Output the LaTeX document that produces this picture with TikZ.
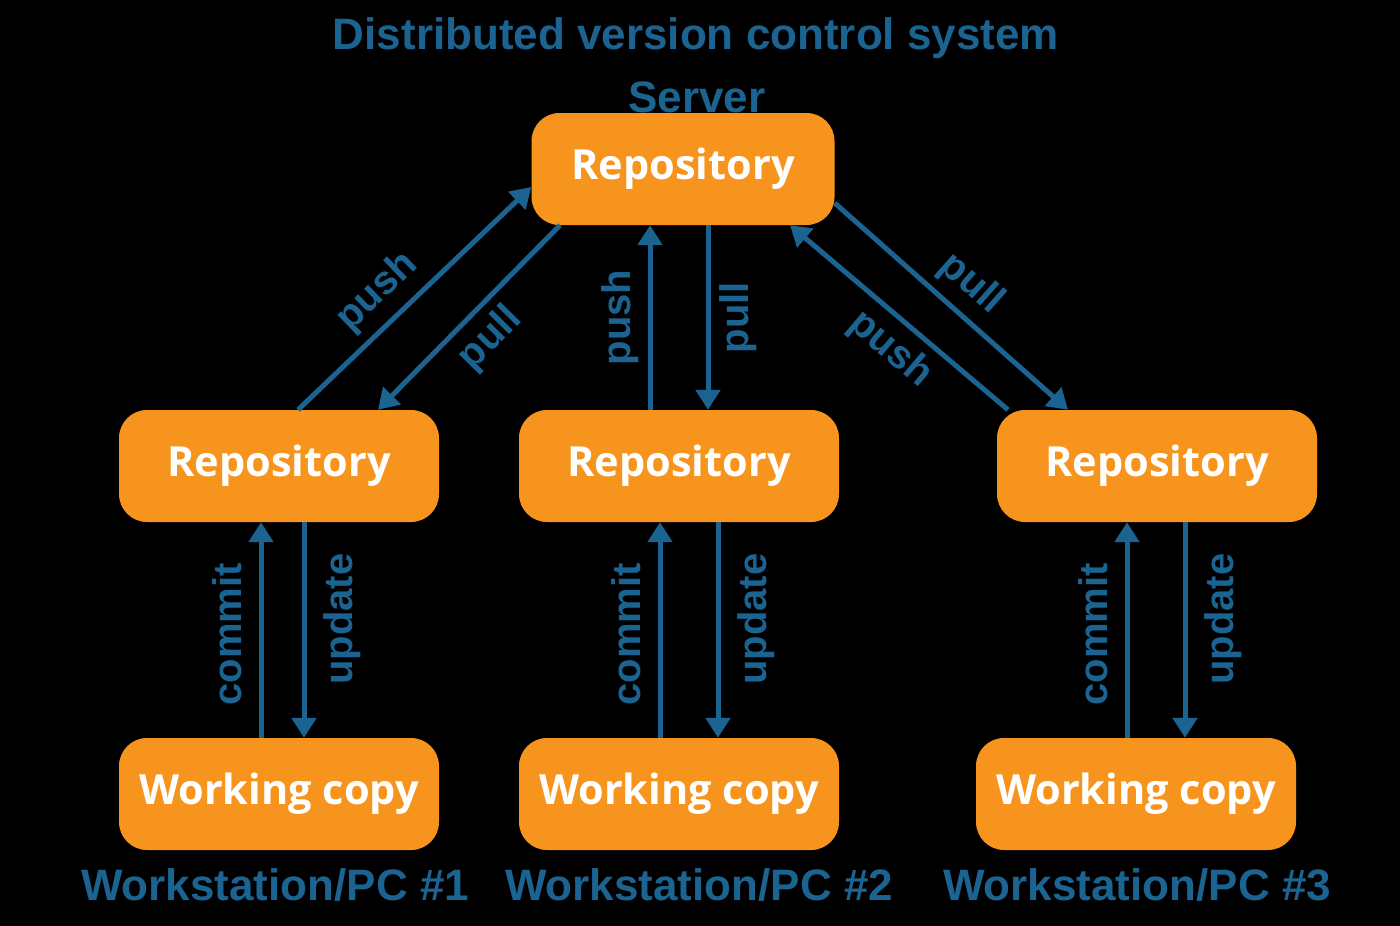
\documentclass[tikz,border=0pt]{standalone}
\usepackage{fontspec}
\setmainfont{Open Sans}
\newfontfamily\labelfont{Liberation Sans}
\usetikzlibrary{arrows.meta, positioning}
\definecolor{dvcsorange}{RGB}{247,148,29}
\definecolor{dvcsblue}{RGB}{27,99,145}

\begin{document}
\begin{tikzpicture}[
		x=1pt, y=-1pt,
		repo/.style={rectangle, rounded corners=28pt, fill=dvcsorange, text=white, inner sep=0pt, minimum width=320pt, minimum height=112pt, font=\fontsize{41.5}{50}\selectfont\bfseries},
		caption/.style={text=dvcsblue, inner sep=0pt, font=\labelfont\fontsize{44}{52}\selectfont\bfseries},
		tag/.style={text=dvcsblue, inner sep=9pt, font=\labelfont\fontsize{40}{48}\selectfont\bfseries},
		flow/.style={->, draw=dvcsblue, line width=5pt, >={Triangle[length=20pt, width=24pt]}}
		]
		\fill [black] (0,0) rectangle (1400,926);
		\useasboundingbox (0,0) rectangle (1400,926);

		\node [caption] (title) at (696,38) {Distributed version control system};
		\node [caption] (server) at (697,97) {Server};

		\node [repo, minimum width=303pt] (srv) at (683,169) {Repository};
		\node [repo] (repo1) at (279,466) {Repository};
		\node [repo] (repo2) at (679,466) {Repository};
		\node [repo] (repo3) at (1157,466) {Repository};
		\node [repo] (wc1) at (279,794) {Working copy};
		\node [repo] (wc2) at (679,794) {Working copy};
		\node [repo] (wc3) at (1136,794) {Working copy};

		\node [caption] (pc1) at (275,885) {Workstation/PC \#1};
		\node [caption] (pc2) at (699,885) {Workstation/PC \#2};
		\node [caption] (pc3) at (1137,885) {Workstation/PC \#3};

		\draw [flow] ([xshift=19pt]repo1.north) -- ([yshift=-18pt]srv.west)
			node [tag, pos=0.43, above, sloped] {push};
		\draw [flow] ([xshift=-123pt]srv.south) -- ([xshift=99pt]repo1.north)
			node [tag, pos=0.5, below, sloped] {pull};

		\coordinate (push2) at ([xshift=-29pt]repo2.north);
		\coordinate (pull2) at ([xshift=29pt]repo2.north);
		\draw [flow] (push2) -- (push2 |- srv.south)
			node [tag, midway, anchor=south, rotate=90] {push};
		\draw [flow] (pull2 |- srv.south) -- (pull2)
			node [tag, midway, anchor=north, rotate=90] {pull};

		\draw [flow] ([yshift=-34pt]srv.east) -- ([xshift=-89pt]repo3.north)
			node [tag, pos=0.5, above, sloped] {pull};
		\draw [flow] ([xshift=-149pt]repo3.north) -- ([xshift=107pt]srv.south)
			node [tag, pos=0.45, below, sloped] {push};

		\coordinate (commit1) at ([xshift=-18pt]wc1.north);
		\coordinate (update1) at ([xshift=25pt]repo1.south);
		\coordinate (commit2) at ([xshift=-19pt]wc2.north);
		\coordinate (update2) at ([xshift=39pt]repo2.south);
		\coordinate (commit3) at ([xshift=-9pt]wc3.north);
		\coordinate (update3) at ([xshift=28pt]repo3.south);

		\foreach \i in {1,2,3} {
			\draw [flow] (commit\i) -- (commit\i |- repo\i.south)
				node [tag, inner sep=17pt, pos=0.48, anchor=south, rotate=90] {commit};
			\draw [flow] (update\i) -- (update\i |- wc\i.north)
				node [tag, inner sep=17pt, pos=0.45, anchor=north, rotate=90] {update};
		}
	\end{tikzpicture}
\end{document}
